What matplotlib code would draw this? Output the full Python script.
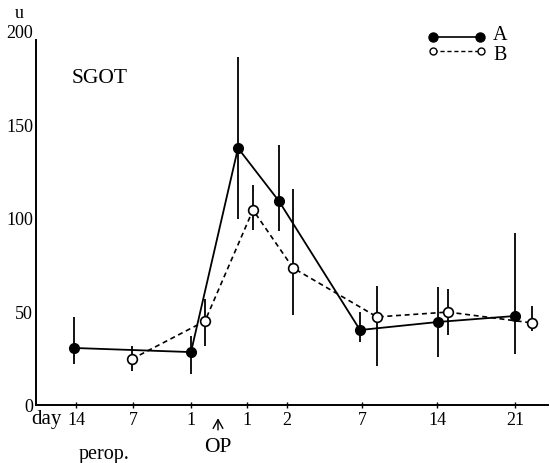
import matplotlib.pyplot as plt

plt.rcParams['font.family'] = ['Liberation Serif', 'DejaVu Serif']

# positions on the (non-linear) day axis
tick_pos = [7.6, 13.3, 19.1, 24.7, 28.7, 36.2, 43.7, 51.5]
tick_labels = ['14', '7', '1', '1', '2', '7', '14', '21']
op_pos = 21.8

# group A: mean with upper / lower end of bar
a_x = [7.4, 19.1, 23.8, 27.9, 36.0, 43.8, 51.5]
a_y = [30.5, 28.3, 137.4, 109.0, 40.1, 44.4, 47.6]
a_hi = [47.0, 36.9, 186.0, 139.0, 49.7, 63.0, 92.0]
a_lo = [22.0, 16.6, 99.5, 93.0, 33.7, 25.7, 27.3]

# group B
b_x = [13.2, 20.5, 25.3, 29.3, 37.7, 44.8, 53.2]
b_y = [24.6, 44.9, 104.3, 73.3, 47.1, 49.7, 43.9]
b_hi = [31.6, 56.7, 117.6, 115.5, 63.6, 62.0, 52.9]
b_lo = [18.2, 31.6, 93.6, 48.1, 20.9, 37.4, 39.6]

fig = plt.figure(figsize=(5.5, 4.64), dpi=100)
ax = fig.add_axes([36 / 550, 58 / 464, 514 / 550, 374 / 464])

ax.set_xlim(3.6, 55.0)
ax.set_ylim(0, 200)

for x, y, lo, hi in zip(a_x, a_y, a_lo, a_hi):
    ax.errorbar([x], [y], yerr=[[y - lo], [hi - y]], fmt='none', ecolor='black',
                elinewidth=1.3, capsize=0, zorder=2)
for x, y, lo, hi in zip(b_x, b_y, b_lo, b_hi):
    ax.errorbar([x], [y], yerr=[[y - lo], [hi - y]], fmt='none', ecolor='black',
                elinewidth=1.3, capsize=0, zorder=2)

ax.plot(a_x, a_y, '-', color='black', lw=1.3, marker='o', ms=7,
        mfc='black', mec='black', zorder=3)
ax.plot(b_x, b_y, color='black', lw=1.2, ls=(0, (3, 2.2)), marker='o', ms=7,
        mfc='white', mec='black', mew=1.2, zorder=4)

# axes
for s in ['top', 'right']:
    ax.spines[s].set_visible(False)
ax.spines['left'].set_linewidth(1.4)
ax.spines['bottom'].set_linewidth(1.4)
ax.spines['left'].set_bounds(0, 195)
ax.spines['bottom'].set_bounds(3.6, 54.8)

ax.set_yticks([0, 50, 100, 150, 200])
ax.set_yticklabels(['0', '50', '100', '150', '200'], fontsize=13)
ax.tick_params(axis='y', length=0, pad=2)
ax.set_xticks(tick_pos)
ax.set_xticklabels(tick_labels, fontsize=13)
ax.tick_params(axis='x', direction='inout', length=5, width=1, pad=2)

ax.text(4.6, -7.4, 'day', fontsize=15, ha='center', va='center', clip_on=False)
ax.text(10.4, -25.9, 'perop.', fontsize=14.5, ha='center', va='center', clip_on=False)
ax.annotate('', xy=(op_pos, -5.6), xytext=(op_pos, -14.8),
            arrowprops=dict(arrowstyle='->,head_length=0.45,head_width=0.25',
                            lw=1.0, color='black', mutation_scale=14),
            annotation_clip=False)
ax.text(op_pos, -22, 'OP', fontsize=15.5, ha='center', va='center', clip_on=False)

ax.text(1.9, 210, 'u', fontsize=13, ha='center', va='center', clip_on=False)
ax.text(7.2, 175.4, 'SGOT', fontsize=15.5, ha='left', va='center')

# legend
ax.plot([0.772, 0.864], [0.984, 0.984], '-', color='black', lw=1.2, marker='o',
        ms=6.5, mfc='black', mec='black', transform=ax.transAxes, clip_on=False)
ax.plot([0.772, 0.866], [0.947, 0.947], color='black', lw=1.0, ls=(0, (3, 2)),
        marker='o', ms=5, mfc='white', mec='black', transform=ax.transAxes,
        clip_on=False)
ax.text(0.889, 0.991, 'A', fontsize=14.5, ha='left', va='center', transform=ax.transAxes)
ax.text(0.889, 0.936, 'B', fontsize=14.5, ha='left', va='center', transform=ax.transAxes)

fig.savefig('out.png', dpi=100)
